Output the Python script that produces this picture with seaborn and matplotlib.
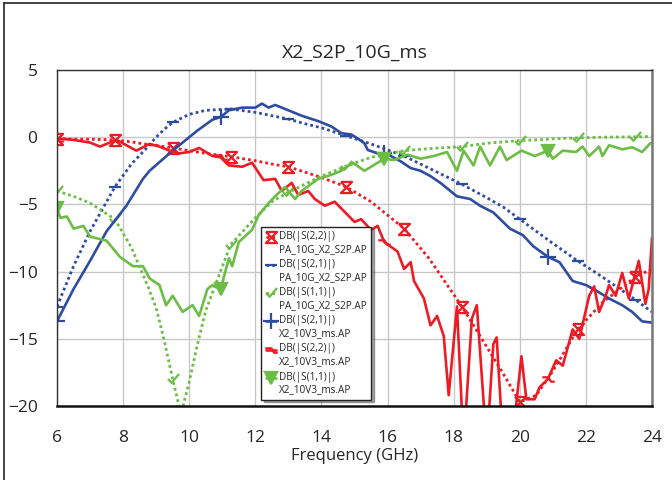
import matplotlib
matplotlib.use("Agg")
import pandas as pd
import matplotlib.pyplot as plt
from matplotlib.lines import Line2D
from matplotlib.path import Path
from matplotlib.legend_handler import HandlerLine2D
from matplotlib.transforms import Affine2D
import seaborn as sns


# PA_10G_X2_S2P.AP  (model sweep, dotted curves)
f_model = [6.0, 6.5, 7.0, 7.75, 8.25, 8.75, 9.0, 9.25, 9.5, 9.75, 10.0,
           10.25, 10.5, 11.25, 12.0, 12.5, 13.0, 13.5, 14.0, 14.75, 15.5,
           16.5, 17.25, 18.25, 19.0, 19.5, 20.0, 20.5, 21.0, 21.75, 22.5,
           23.5, 24.0]
s22_model = [-0.1, -0.15, -0.15, -0.2, -0.35, -0.55, -0.6, -0.7, -0.8, -0.9,
             -1.0, -1.1, -1.2, -1.45, -1.75, -2.0, -2.2, -2.6, -3.0, -3.7,
             -4.8, -6.8, -9.0, -12.6, -15.6, -17.6, -19.7, -19.2, -17.4,
             -14.3, -12.3, -10.4, -9.8]
s21_model = [-12.6, -9.6, -7.0, -3.7, -2.0, -0.7, 0.0, 0.6, 1.1, 1.4, 1.7,
             1.85, 2.0, 2.1, 1.85, 1.6, 1.35, 1.0, 0.7, 0.1, -0.5, -1.4,
             -2.3, -3.5, -4.5, -5.2, -6.1, -7.0, -7.9, -9.2, -10.4, -12.1,
             -13.0]
s11_model = [-4.0, -4.4, -4.9, -6.1, -8.2, -11.1, -12.7, -15.2, -18.0,
             -20.6, -18.2, -15.4, -12.9, -8.0, -6.0, -4.8, -4.1, -3.5, -2.9,
             -2.15, -1.5, -1.0, -0.85, -0.7, -0.45, -0.35, -0.25, -0.2,
             -0.12, -0.05, 0.0, 0.03, 0.05]
model_marks = [6.0, 7.75, 9.5, 11.25, 13.0, 14.75, 16.5, 18.25, 20.0,
               21.75, 23.5]

# X2_10V3_ms.AP  (measured, solid curves)
f_s21_meas = [6.0, 6.5, 7.0, 7.5, 8.1, 8.6, 8.8, 9.5, 10.25, 10.7, 10.95,
              11.2, 11.6, 12.0, 12.2, 12.4, 12.6, 12.9, 13.4, 13.9, 14.3,
              14.6, 14.9, 15.1, 15.3, 15.4, 15.7, 15.9, 16.1, 16.4, 16.7,
              17.0, 17.3, 17.6, 18.1, 18.5, 18.8, 19.2, 19.7, 20.1, 20.4,
              20.85, 21.2, 21.6, 22.0, 22.3, 22.7, 23.1, 23.4, 23.7, 24.0]
s21_meas = [-13.7, -11.3, -9.2, -7.0, -5.1, -3.1, -2.5, -1.0, 0.5, 1.3, 1.5,
            2.0, 2.2, 2.2, 2.5, 2.2, 2.4, 2.1, 1.6, 1.2, 0.8, 0.3, 0.2,
            -0.1, -0.45, -0.95, -1.2, -1.2, -1.4, -1.8, -2.3, -2.5, -2.9,
            -3.4, -4.4, -4.6, -5.1, -5.6, -6.8, -7.3, -8.1, -8.9, -9.3,
            -10.7, -11.0, -11.4, -12.0, -12.5, -13.0, -13.7, -13.8]

f_s22_meas = [6.0, 6.5, 7.0, 7.3, 7.8, 8.1, 8.4, 8.8, 9.1, 9.4, 9.7, 10.0,
              10.3, 10.7, 10.95, 11.2, 11.6, 11.9, 12.25, 12.6, 12.8, 13.1,
              13.3, 13.6, 13.8, 14.1, 14.4, 14.6, 15.0, 15.2, 15.5, 15.7,
              15.9, 16.3, 16.5, 16.7, 16.8, 17.1, 17.3, 17.5, 17.7, 17.85,
              18.1, 18.3, 18.55, 18.7, 19.0, 19.2, 19.3, 19.5, 19.8, 20.05,
              20.2, 20.45, 20.6, 20.85, 21.1, 21.3, 21.6, 21.8, 22.1, 22.25,
              22.4, 22.6, 22.7, 22.9, 23.1, 23.3, 23.6, 23.8, 23.9, 24.0]
s22_meas = [-0.1, -0.2, -0.4, -0.7, -0.2, -0.6, -1.0, -0.5, -0.7, -1.0,
            -1.2, -1.1, -0.8, -1.4, -1.5, -2.1, -2.2, -1.9, -3.2, -3.1,
            -4.0, -3.4, -4.3, -4.0, -4.6, -5.1, -4.8, -5.3, -6.3, -6.1,
            -6.9, -6.6, -7.8, -8.5, -9.8, -9.3, -10.7, -12.0, -14.0, -13.3,
            -14.8, -19.2, -12.6, -23.0, -13.5, -12.5, -23.0, -15.4, -14.9,
            -23.0, -22.0, -16.3, -19.5, -19.5, -18.6, -18.0, -16.6, -17.0,
            -14.3, -15.0, -11.8, -11.1, -13.0, -11.8, -11.0, -11.8, -10.1,
            -12.0, -9.2, -12.4, -11.3, -7.5]

f_s11_meas = [6.0, 6.1, 6.3, 6.5, 6.8, 7.0, 7.5, 7.9, 8.3, 8.6, 8.8, 9.1,
              9.3, 9.5, 9.8, 10.1, 10.3, 10.55, 10.7, 10.95, 11.2, 11.3,
              11.5, 11.9, 12.1, 12.4, 12.6, 12.9, 13.2, 13.4, 13.9, 14.3,
              14.6, 14.95, 15.3, 15.9, 16.2, 16.6, 17.0, 17.4, 17.8, 18.1,
              18.3, 18.6, 18.8, 19.1, 19.4, 19.6, 20.05, 20.45, 20.85, 21.0,
              21.3, 21.7, 21.9, 22.1, 22.4, 22.5, 22.7, 23.1, 23.4, 23.7,
              23.95, 24.0]
s11_meas = [-5.3, -6.0, -5.9, -6.8, -6.6, -7.4, -7.7, -8.9, -9.6, -9.6,
            -10.5, -11.0, -12.5, -11.8, -13.0, -12.5, -13.3, -11.3, -11.0,
            -11.3, -9.0, -9.6, -7.8, -6.9, -5.8, -4.9, -4.4, -3.7, -4.6,
            -4.0, -3.1, -2.8, -2.5, -1.9, -2.5, -1.6, -1.7, -1.3, -1.6,
            -1.4, -1.1, -2.5, -1.0, -2.1, -0.7, -2.1, -0.7, -1.7, -1.0,
            -1.4, -1.0, -1.6, -1.0, -1.1, -0.7, -1.4, -0.7, -1.4, -0.6,
            -0.9, -0.75, -1.1, -0.45, -0.45]
meas_marks = [6.0, 10.95, 15.9, 20.85]

labels = ["DB(|S(2,2)|)\nPA_10G_X2_S2P.AP",
          "DB(|S(2,1)|)\nPA_10G_X2_S2P.AP",
          "DB(|S(1,1)|)\nPA_10G_X2_S2P.AP",
          "DB(|S(2,1)|)\nX2_10V3_ms.AP",
          "DB(|S(2,2)|)\nX2_10V3_ms.AP",
          "DB(|S(1,1)|)\nX2_10V3_ms.AP"]

RED = "#ED1C24"
BLUE = "#2F4DA0"
GREEN = "#6CBD45"

M, L = Path.MOVETO, Path.LINETO
hourglass = Path([(-1, 1), (1, 1), (-1, -1), (1, -1), (-1, 1)],
                 [M, L, L, L, L])
check = Path([(-1, 0.1), (-0.35, -0.6), (1, 1)], [M, L, L])
zig = Path([(-1, 0.35), (0, 0.35), (0.4, -0.35), (1, -0.35)], [M, L, L, L])


class RaisedHandler(HandlerLine2D):
    # put the legend symbol next to the first text line, not in the middle
    def create_artists(self, legend, orig_handle, xdescent, ydescent,
                       width, height, fontsize, trans):
        lift = Affine2D().translate(0, 0.62 * fontsize * 100 / 72)
        return super().create_artists(legend, orig_handle, xdescent,
                                      ydescent, width, height, fontsize,
                                      trans + lift)


def mark_idx(freqs, marks):
    return [i for i, f in enumerate(freqs) if f in marks]


def draw(ax, freqs, vals, color, style, marker, ms, marks, label, mfc="none"):
    df = pd.DataFrame({"freq": freqs, "db": vals})
    sns.lineplot(data=df, x="freq", y="db", ax=ax, color=color,
                 linestyle=style, linewidth=1.9 if style == "-" else 2.0,
                 marker=marker, markersize=ms, markevery=mark_idx(freqs, marks),
                 markerfacecolor=mfc, markeredgecolor=color,
                 markeredgewidth=1.6, errorbar=None, label=label)


sns.set_style("white")
plt.rcParams["font.family"] = ["Open Sans", "DejaVu Sans"]

fig = plt.figure(figsize=(6.72, 4.8), dpi=100)
ax = fig.add_axes([57 / 672, 1 - 406 / 480, 595 / 672, 336 / 480])

dots = (0, (1, 1.1))
draw(ax, f_model, s22_model, RED, dots, hourglass, 8, model_marks, labels[0])
draw(ax, f_model, s21_model, BLUE, dots, "_", 9, model_marks, labels[1])
draw(ax, f_model, s11_model, GREEN, dots, check, 8, model_marks, labels[2])
draw(ax, f_s21_meas, s21_meas, BLUE, "-", "+", 11, meas_marks, labels[3])
draw(ax, f_s22_meas, s22_meas, RED, "-", zig, 9, meas_marks, labels[4])
draw(ax, f_s11_meas, s11_meas, GREEN, "-", "v", 8, meas_marks, labels[5],
     mfc=GREEN)

ax.set_xlim(6, 24)
ax.set_ylim(-20, 5)
ax.set_xticks(range(6, 25, 2))
ax.set_yticks(range(-20, 6, 5))
ax.grid(True, color="#c8c8c8", linewidth=1.0)
ax.set_axisbelow(True)
ax.tick_params(length=0, labelsize=12.5)
ax.tick_params(axis="x", pad=17)
ax.tick_params(axis="y", pad=14)
for side in ["left", "top"]:
    ax.spines[side].set_color("#333333")
    ax.spines[side].set_linewidth(1.0)
ax.spines["bottom"].set_color("#111111")
ax.spines["bottom"].set_linewidth(1.8)
ax.spines["right"].set_color("#777777")
ax.spines["right"].set_linewidth(1.8)

ax.set_title("X2_S2P_10G_ms", fontsize=14, pad=9)
ax.set_xlabel("Frequency (GHz)", fontsize=12, labelpad=2)
ax.set_ylabel("")

leg = ax.legend(loc="lower left", bbox_to_anchor=(0.335, 0.004),
                fontsize=7.2, handlelength=1.0, handletextpad=0.3,
                labelspacing=0.45, borderpad=0.45, numpoints=1,
                handler_map={Line2D: RaisedHandler(numpoints=1)},
                frameon=True, fancybox=False, shadow=True, framealpha=1)
leg.get_frame().set_edgecolor("#222222")
leg.get_frame().set_linewidth(1.0)

# frame lines of the page at left and top
fig.add_artist(Line2D([4 / 672, 4 / 672], [0, 1 - 3 / 480],
                      color="#222222", linewidth=1.2))
fig.add_artist(Line2D([4 / 672, 1], [1 - 3 / 480, 1 - 3 / 480],
                      color="#222222", linewidth=1.2))

fig.savefig("out.png", dpi=100)
